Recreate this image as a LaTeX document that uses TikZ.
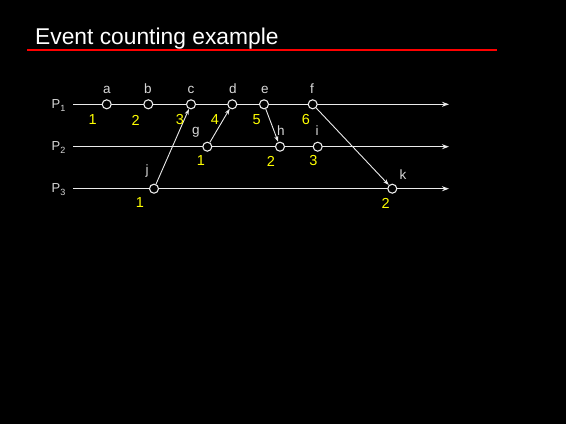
\documentclass[tikz,border=0pt]{standalone}
\usepackage{fontspec}
\setmainfont{Liberation Sans}
\usetikzlibrary{arrows.meta}
\definecolor{fg}{RGB}{235,235,235}
\definecolor{lg}{RGB}{215,215,215}
\definecolor{num}{RGB}{255,255,0}
\newcommand{\psub}[1]{P\raisebox{-0.25em}{\fontsize{9}{9}\selectfont #1}}
\begin{document}
\begin{tikzpicture}[x=1pt,y=-1pt,
  ev/.style={circle,draw=fg,fill=black,line width=1.1pt,minimum size=9pt,inner sep=0pt},
  lbl/.style={text=lg,font=\fontsize{13.5}{13.5}\selectfont,inner sep=0pt},
  cnt/.style={text=num,font=\fontsize{14.5}{14.5}\selectfont,inner sep=0pt},
  proc/.style={text=lg,font=\fontsize{13}{13}\selectfont,inner sep=0pt},
  tl/.style={draw=fg,line width=1.1pt,-{Stealth[length=7pt,width=5pt]}},
  msg/.style={draw=fg,line width=0.9pt,-{Stealth[length=6pt,width=4pt]}}]
\fill[black] (0,0) rectangle (566,424);
\useasboundingbox (0,0) rectangle (566,424);
\node[anchor=base west,text=white,font=\fontsize{22.8}{22.8}\selectfont,inner sep=0pt] (title) at (35,44) {Event counting example};
\draw[red,line width=1.2pt] (27,50) -- (497,50);
% process labels
\node[proc,anchor=base west] (p1) at (51.5,108.3) {\psub{1}};
\node[proc,anchor=base west] (p2) at (51.5,150.5) {\psub{2}};
\node[proc,anchor=base west] (p3) at (51.5,192.5) {\psub{3}};
\coordinate (s1) at (73,104.3); \coordinate (e1) at (449,104.3);
\coordinate (s2) at (73,146.7); \coordinate (e2) at (449,146.7);
\coordinate (s3) at (73,188.7); \coordinate (e3) at (449,188.7);
\draw[tl] (s1) -- (e1);
\draw[tl] (s2) -- (e2);
\draw[tl] (s3) -- (e3);
% events
\node[ev] (a) at (106.7,104.3) {};
\node[ev] (b) at (148.3,104.3) {};
\node[ev] (c) at (191,104.3) {};
\node[ev] (d) at (232.3,104.3) {};
\node[ev] (e) at (264,104.3) {};
\node[ev] (f) at (312.7,104.3) {};
\node[ev] (g) at (207.3,146.7) {};
\node[ev] (h) at (280,146.7) {};
\node[ev] (i) at (317.7,146.7) {};
\node[ev] (j) at (154,188.7) {};
\node[ev] (k) at (392.3,188.7) {};
% messages
\draw[msg] (j) -- (c);
\draw[msg] (g) -- (d);
\draw[msg] (e) -- (h);
\draw[msg] (f) -- (k);
% letters
\node[lbl] (la) at (107,90) {a};
\node[lbl] (lb) at (148,89) {b};
\node[lbl] (lc) at (191,90) {c};
\node[lbl] (ld) at (233,89) {d};
\node[lbl] (le) at (265,90) {e};
\node[lbl] (lf) at (312,89) {f};
\node[lbl] (lg) at (196,132) {g};
\node[lbl] (lh) at (281,131) {h};
\node[lbl] (li) at (317,131) {i};
\node[lbl] (lj) at (147,171) {j};
\node[lbl] (lk) at (403,175) {k};
% counts
\node[cnt] (na) at (92.7,120) {1};
\node[cnt] (nb) at (135.7,120) {2};
\node[cnt] (nc) at (180,120) {3};
\node[cnt] (nd) at (215,120) {4};
\node[cnt] (ne) at (256.7,120) {5};
\node[cnt] (nf) at (306,120) {6};
\node[cnt] (ng) at (201,161) {1};
\node[cnt] (nh) at (271,161) {2};
\node[cnt] (ni) at (313.3,161) {3};
\node[cnt] (nj) at (140,203) {1};
\node[cnt] (nk) at (385.7,203) {2};
\end{tikzpicture}
\end{document}
